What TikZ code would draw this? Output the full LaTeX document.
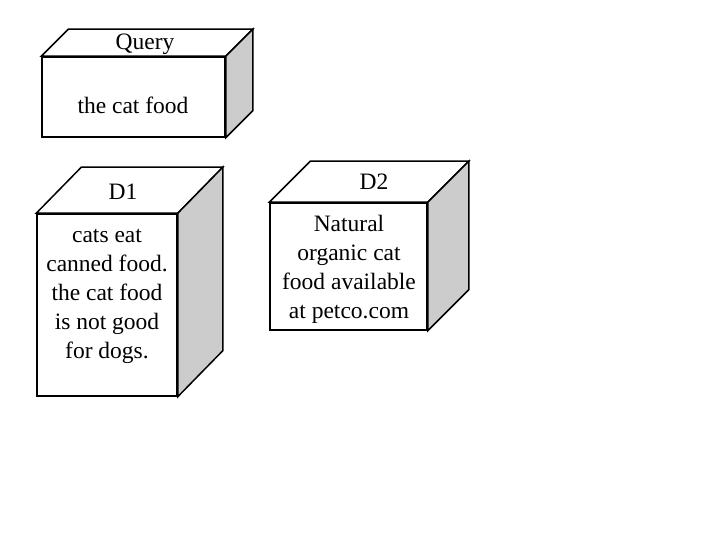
\documentclass[tikz,border=0pt]{standalone}
\usepackage{fontspec}
\setmainfont{Liberation Serif}
\usetikzlibrary{positioning}
\definecolor{sidegray}{RGB}{204,204,204}

\begin{document}
\begin{tikzpicture}[x=1pt, y=-1pt, every node/.style={font=\fontsize{23.5}{29}\selectfont},
  face/.style={draw, line width=1.5pt, fill=white, inner sep=0pt},
  edge/.style={draw, line width=1.5pt, line join=miter},
  txt/.style={align=center, inner sep=0pt}]
\useasboundingbox (0,0) rectangle (720,540);
% front faces
\node[face, minimum width=183pt, minimum height=80pt] (q) at (133.5,97) {};
\node[face, minimum width=140pt, minimum height=182pt] (d1) at (107,305) {};
\node[face, minimum width=157pt, minimum height=127pt] (d2) at (348.5,266.5) {};
% top and side of the query box
\coordinate (qa) at ([shift={(27,-27)}]q.north west);
\coordinate (qb) at ([shift={(27,-27)}]q.north east);
\coordinate (qc) at ([shift={(27,-27)}]q.south east);
\path[edge, fill=white] (q.north west) -- (qa) -- (qb) -- (q.north east) -- cycle;
\path[edge, fill=sidegray] (q.north east) -- (qb) -- (qc) -- (q.south east) -- cycle;
% top and side of D1
\coordinate (d1a) at ([shift={(45,-46)}]d1.north west);
\coordinate (d1b) at ([shift={(45,-46)}]d1.north east);
\coordinate (d1c) at ([shift={(45,-46)}]d1.south east);
\path[edge, fill=white] (d1.north west) -- (d1a) -- (d1b) -- (d1.north east) -- cycle;
\path[edge, fill=sidegray] (d1.north east) -- (d1b) -- (d1c) -- (d1.south east) -- cycle;
% top and side of D2
\coordinate (d2a) at ([shift={(41,-41)}]d2.north west);
\coordinate (d2b) at ([shift={(41,-41)}]d2.north east);
\coordinate (d2c) at ([shift={(41,-41)}]d2.south east);
\path[edge, fill=white] (d2.north west) -- (d2a) -- (d2b) -- (d2.north east) -- cycle;
\path[edge, fill=sidegray] (d2.north east) -- (d2b) -- (d2c) -- (d2.south east) -- cycle;
% labels
\node[txt] (qtop) at (145,44) {Query};
\node[txt] (qtext) at (133,105) {the cat food};
\node[txt] (d1top) at (123,192) {D1};
\node[txt] (d1text) at (107,296) {cats eat\\canned food.\\the cat food\\is not good\\for dogs.};
\node[txt] (d2top) at (374,182) {D2};
\node[txt] (d2text) at (349,269) {Natural\\organic cat\\food available\\at petco.com};
\end{tikzpicture}
\end{document}
